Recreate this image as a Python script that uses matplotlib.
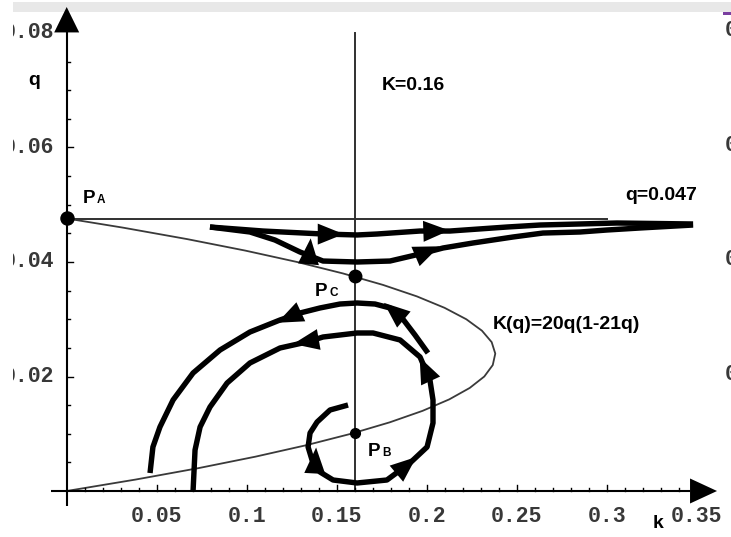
import numpy as np
import matplotlib
matplotlib.use("Agg")
import matplotlib.pyplot as plt
from matplotlib.patches import Polygon, Rectangle
from matplotlib.transforms import offset_copy

# ------------------------------------------------------------------ data
# curve K(q) = 20q(1-21q) (k as a function of q)
curve_q = [0.0, 0.002, 0.004, 0.006, 0.008, 0.010, 0.012, 0.014, 0.016, 0.018,
           0.020, 0.022, 0.024, 0.026, 0.028, 0.030, 0.032, 0.034, 0.036,
           0.038, 0.040, 0.042, 0.044, 0.046, 0.0476]
curve_k = [0.0, 0.0383, 0.0733, 0.1049, 0.1331, 0.1580, 0.1795, 0.1977, 0.2125,
           0.2239, 0.2320, 0.2367, 0.2381, 0.2361, 0.2307, 0.2220, 0.2099,
           0.1945, 0.1757, 0.1535, 0.1280, 0.0991, 0.0669, 0.0313, 0.0]

k_line = 0.16          # vertical line K=0.16
k_line_top = 0.080
q_line = 0.0475        # horizontal line q=0.047
q_line_end = 0.300

# trajectory near q=0.047 (upper branch)
top_upper_k = [0.0796, 0.1091, 0.1424, 0.1613, 0.1724, 0.1963, 0.2129, 0.2446,
               0.2630, 0.3057, 0.3480]
top_upper_q = [0.04611, 0.04541, 0.04489, 0.04472, 0.04489, 0.04541, 0.04541,
               0.04611, 0.04646, 0.04681, 0.04664]
# trajectory near q=0.047 (lower branch, passing over P_C)
top_lower_k = [0.0796, 0.1018, 0.1157, 0.1296, 0.1424, 0.1613, 0.1796, 0.1963,
               0.2091, 0.2257, 0.2480, 0.2646, 0.2852, 0.3002, 0.3185, 0.3480]
top_lower_q = [0.04611, 0.04524, 0.04384, 0.04175, 0.04017, 0.04000, 0.04017,
               0.04140, 0.04245, 0.04332, 0.04437, 0.04506, 0.04524, 0.04559,
               0.04594, 0.04646]
# outer arc
outer_k = [0.2007, 0.1935, 0.1863, 0.1796, 0.1713, 0.1613, 0.1518, 0.1407,
           0.1296, 0.1185, 0.1018, 0.0852, 0.0702, 0.0591, 0.0518, 0.0479, 0.0463]
outer_q = [0.02410, 0.02725, 0.03022, 0.03197, 0.03266, 0.03284, 0.03266,
           0.03197, 0.03109, 0.02987, 0.02777, 0.02463, 0.02061, 0.01590,
           0.01118, 0.00769, 0.00314]
# spiral around P_B
spiral_k = [0.1563, 0.1463, 0.1391, 0.1352, 0.1341, 0.1363, 0.1407, 0.1480,
            0.1613, 0.1779, 0.1907, 0.2002, 0.2035, 0.2035, 0.2018, 0.1963,
            0.1852, 0.1702, 0.1613, 0.1424, 0.1335, 0.1185, 0.1018, 0.0891,
            0.0796, 0.0741, 0.0713, 0.0702]
spiral_q = [0.01502, 0.01415, 0.01205, 0.01013, 0.00769, 0.00541, 0.00332,
            0.00192, 0.00140, 0.00192, 0.00489, 0.00769, 0.01188, 0.01590,
            0.01939, 0.02341, 0.02638, 0.02760, 0.02760, 0.02690, 0.02603,
            0.02498, 0.02236, 0.01886, 0.01467, 0.01118, 0.00716, 0.0]

point_A = (0.0, 0.0476)
point_C = (0.16, 0.0375)
point_B = (0.16, 0.0101)

x_ticks = [0.05, 0.10, 0.15, 0.20, 0.25, 0.30, 0.35]
x_tick_labels = ["0.05", "0.1", "0.15", "0.2", "0.25", "0.3", "0.35"]
y_ticks = [0.02, 0.04, 0.06, 0.08]
y_tick_labels = ["0.02", "0.04", "0.06", "0.08"]

# ------------------------------------------------------------------ layout
W_PX, H_PX = 731, 537
PX_K, PX_Q = 1800.0, 5725.0        # pixels per data unit
X0, Y0 = 66.7, 491.0                # pixel position of the origin (from top-left)

def dk(px):
    return px / PX_K

def dq(px):
    return px / PX_Q

fig = plt.figure(figsize=(W_PX / 100, H_PX / 100), dpi=100)
fig.patch.set_facecolor("white")
ax = fig.add_axes([0, 0, 1, 1])
ax.set_xlim(-X0 / PX_K, (W_PX - X0) / PX_K)
ax.set_ylim(-(H_PX - Y0) / PX_Q, Y0 / PX_Q)
ax.axis("off")

# grey band at the top, small purple mark
ax.add_patch(Rectangle((12 / W_PX, 1 - 12 / H_PX), 1, 10 / H_PX, transform=ax.transAxes,
                       facecolor="#e8e8e8", edgecolor="none", zorder=0.2))
ax.add_patch(Rectangle((723 / W_PX, 1 - 15 / H_PX), 8 / W_PX, 3 / H_PX, transform=ax.transAxes,
                       facecolor="#7a3fa0", edgecolor="none", zorder=0.3))

# axes with arrows
ax.plot([dk(-16), 0.3463], [0, 0], color="black", lw=1.5, zorder=3, solid_capstyle="butt")
ax.plot([0, 0], [dq(-15), 0.0802], color="black", lw=1.5, zorder=3, solid_capstyle="butt")
ax.add_patch(Polygon([[0.3613, 0], [0.3463, dq(12.5)], [0.3463, -dq(12.5)]],
                     closed=True, facecolor="black", edgecolor="none", zorder=6))
ax.add_patch(Polygon([[0, 0.08454], [-dk(12.5), 0.0801], [dk(12.5), 0.0801]],
                     closed=True, facecolor="black", edgecolor="none", zorder=6))

# ticks
for i in range(1, 36):
    L = 6 if i % 5 == 0 else 3.5
    ax.plot([i * 0.01, i * 0.01], [0, dq(L)], color="black", lw=1.0, zorder=3)
for i in range(1, 16):
    L = 6 if i % 4 == 0 else 3.5
    ax.plot([0, dk(L)], [i * 0.005, i * 0.005], color="black", lw=1.0, zorder=3)

mono = dict(family=["Liberation Mono", "DejaVu Sans Mono"], fontsize=15.5,
            fontweight="bold", color="#383838")
for v, lab in zip(x_ticks, x_tick_labels):
    ax.text(v, dq(-26), lab, ha="center", va="center", **mono)
for v, lab in zip(y_ticks, y_tick_labels):
    ax.text(dk(-12), v, lab, ha="right", va="center", **mono)
    # labels of the neighbouring panel, cut by the right edge
    ax.text(dk(725 - X0), v + dq(2), lab, ha="left", va="center", **mono)

# thin lines
ax.plot([k_line, k_line], [0, k_line_top], color="#303030", lw=1.4, zorder=2)
ax.plot([0, q_line_end], [q_line, q_line], color="#303030", lw=1.4, zorder=2)
ax.plot(curve_k, curve_q, color="#3a3a3a", lw=1.3, zorder=2)

# thick trajectories
paths = {
    "upper": (top_upper_k, top_upper_q),
    "lower": (top_lower_k, top_lower_q),
    "outer": (outer_k, outer_q),
    "spiral": (spiral_k, spiral_q),
}
for kk, qq in paths.values():
    ax.plot(kk, qq, color="black", lw=3.9, zorder=4,
            solid_capstyle="butt", solid_joinstyle="round")

# arrowheads on the trajectories: (path, position along path, direction in degrees)
arrow_specs = [
    ("upper", 2.1, 0), ("upper", 5.4, 2),
    ("lower", 3.4, 85), ("lower", 7.15, 23),
    ("outer", 8.35, 205), ("outer", 2.4, 140),
    ("spiral", 19.8, 190), ("spiral", 14.3, 115),
    ("spiral", 9.7, 40), ("spiral", 5.4, 87),
]

def arrowhead(kk, qq, pos, ang, L=26, W=21):
    i = int(np.floor(pos))
    f = pos - i
    k = kk[i] + f * (kk[i + 1] - kk[i])
    q = qq[i] + f * (qq[i + 1] - qq[i])
    cx, cy = ax.transData.transform((k, q))
    a = np.deg2rad(ang)
    ux, uy = np.cos(a), np.sin(a)
    nx, ny = -uy, ux
    tip = (cx + 2 * L / 3 * ux, cy + 2 * L / 3 * uy)
    b1 = (cx - L / 3 * ux + W / 2 * nx, cy - L / 3 * uy + W / 2 * ny)
    b2 = (cx - L / 3 * ux - W / 2 * nx, cy - L / 3 * uy - W / 2 * ny)
    pts = ax.transData.inverted().transform([tip, b1, b2])
    ax.add_patch(Polygon(pts, closed=True, facecolor="black", edgecolor="none", zorder=5))

for name, pos, ang in arrow_specs:
    kk, qq = paths[name]
    arrowhead(kk, qq, pos, ang)

# equilibrium points
ax.plot(*point_A, "o", color="black", ms=9.4, zorder=7, clip_on=False)
ax.plot(*point_C, "o", color="black", ms=9.0, zorder=7)
ax.plot(*point_B, "o", color="black", ms=7.0, zorder=7)

# labels
lab = dict(family=["Liberation Sans", "DejaVu Sans"], fontweight="bold",
           color="black", ha="left", va="baseline")
ax.text(dk(28 - X0), dq(Y0 - 85), "q", fontsize=14, **lab)
ax.text(dk(653 - X0), dq(Y0 - 528), "k", fontsize=14, **lab)
ax.text(dk(382 - X0), dq(Y0 - 90), "K=0.16", fontsize=14, **lab)
ax.text(dk(625 - X0), dq(Y0 - 200), "q=0.047", fontsize=14, **lab)
ax.text(dk(493 - X0), dq(Y0 - 329), "K(q)=20q(1-21q)", fontsize=14, **lab)

sub_tr = offset_copy(ax.transData, fig=fig, x=14, y=0, units="dots")
for (px, py), s in [((83, 203), "A"), ((315, 296), "C"), ((368, 456), "B")]:
    kx, qy = dk(px - X0), dq(Y0 - py)
    ax.text(kx, qy, "P", fontsize=13.5, **lab)
    ax.text(kx, qy, s, fontsize=8.5, transform=sub_tr, **lab)

# white strip on the far left (cuts the tick labels)
ax.add_patch(Rectangle((0, 0), 12.5 / W_PX, 1, transform=ax.transAxes,
                       facecolor="white", edgecolor="none", zorder=20))

fig.savefig("out.png", dpi=100, facecolor="white")
